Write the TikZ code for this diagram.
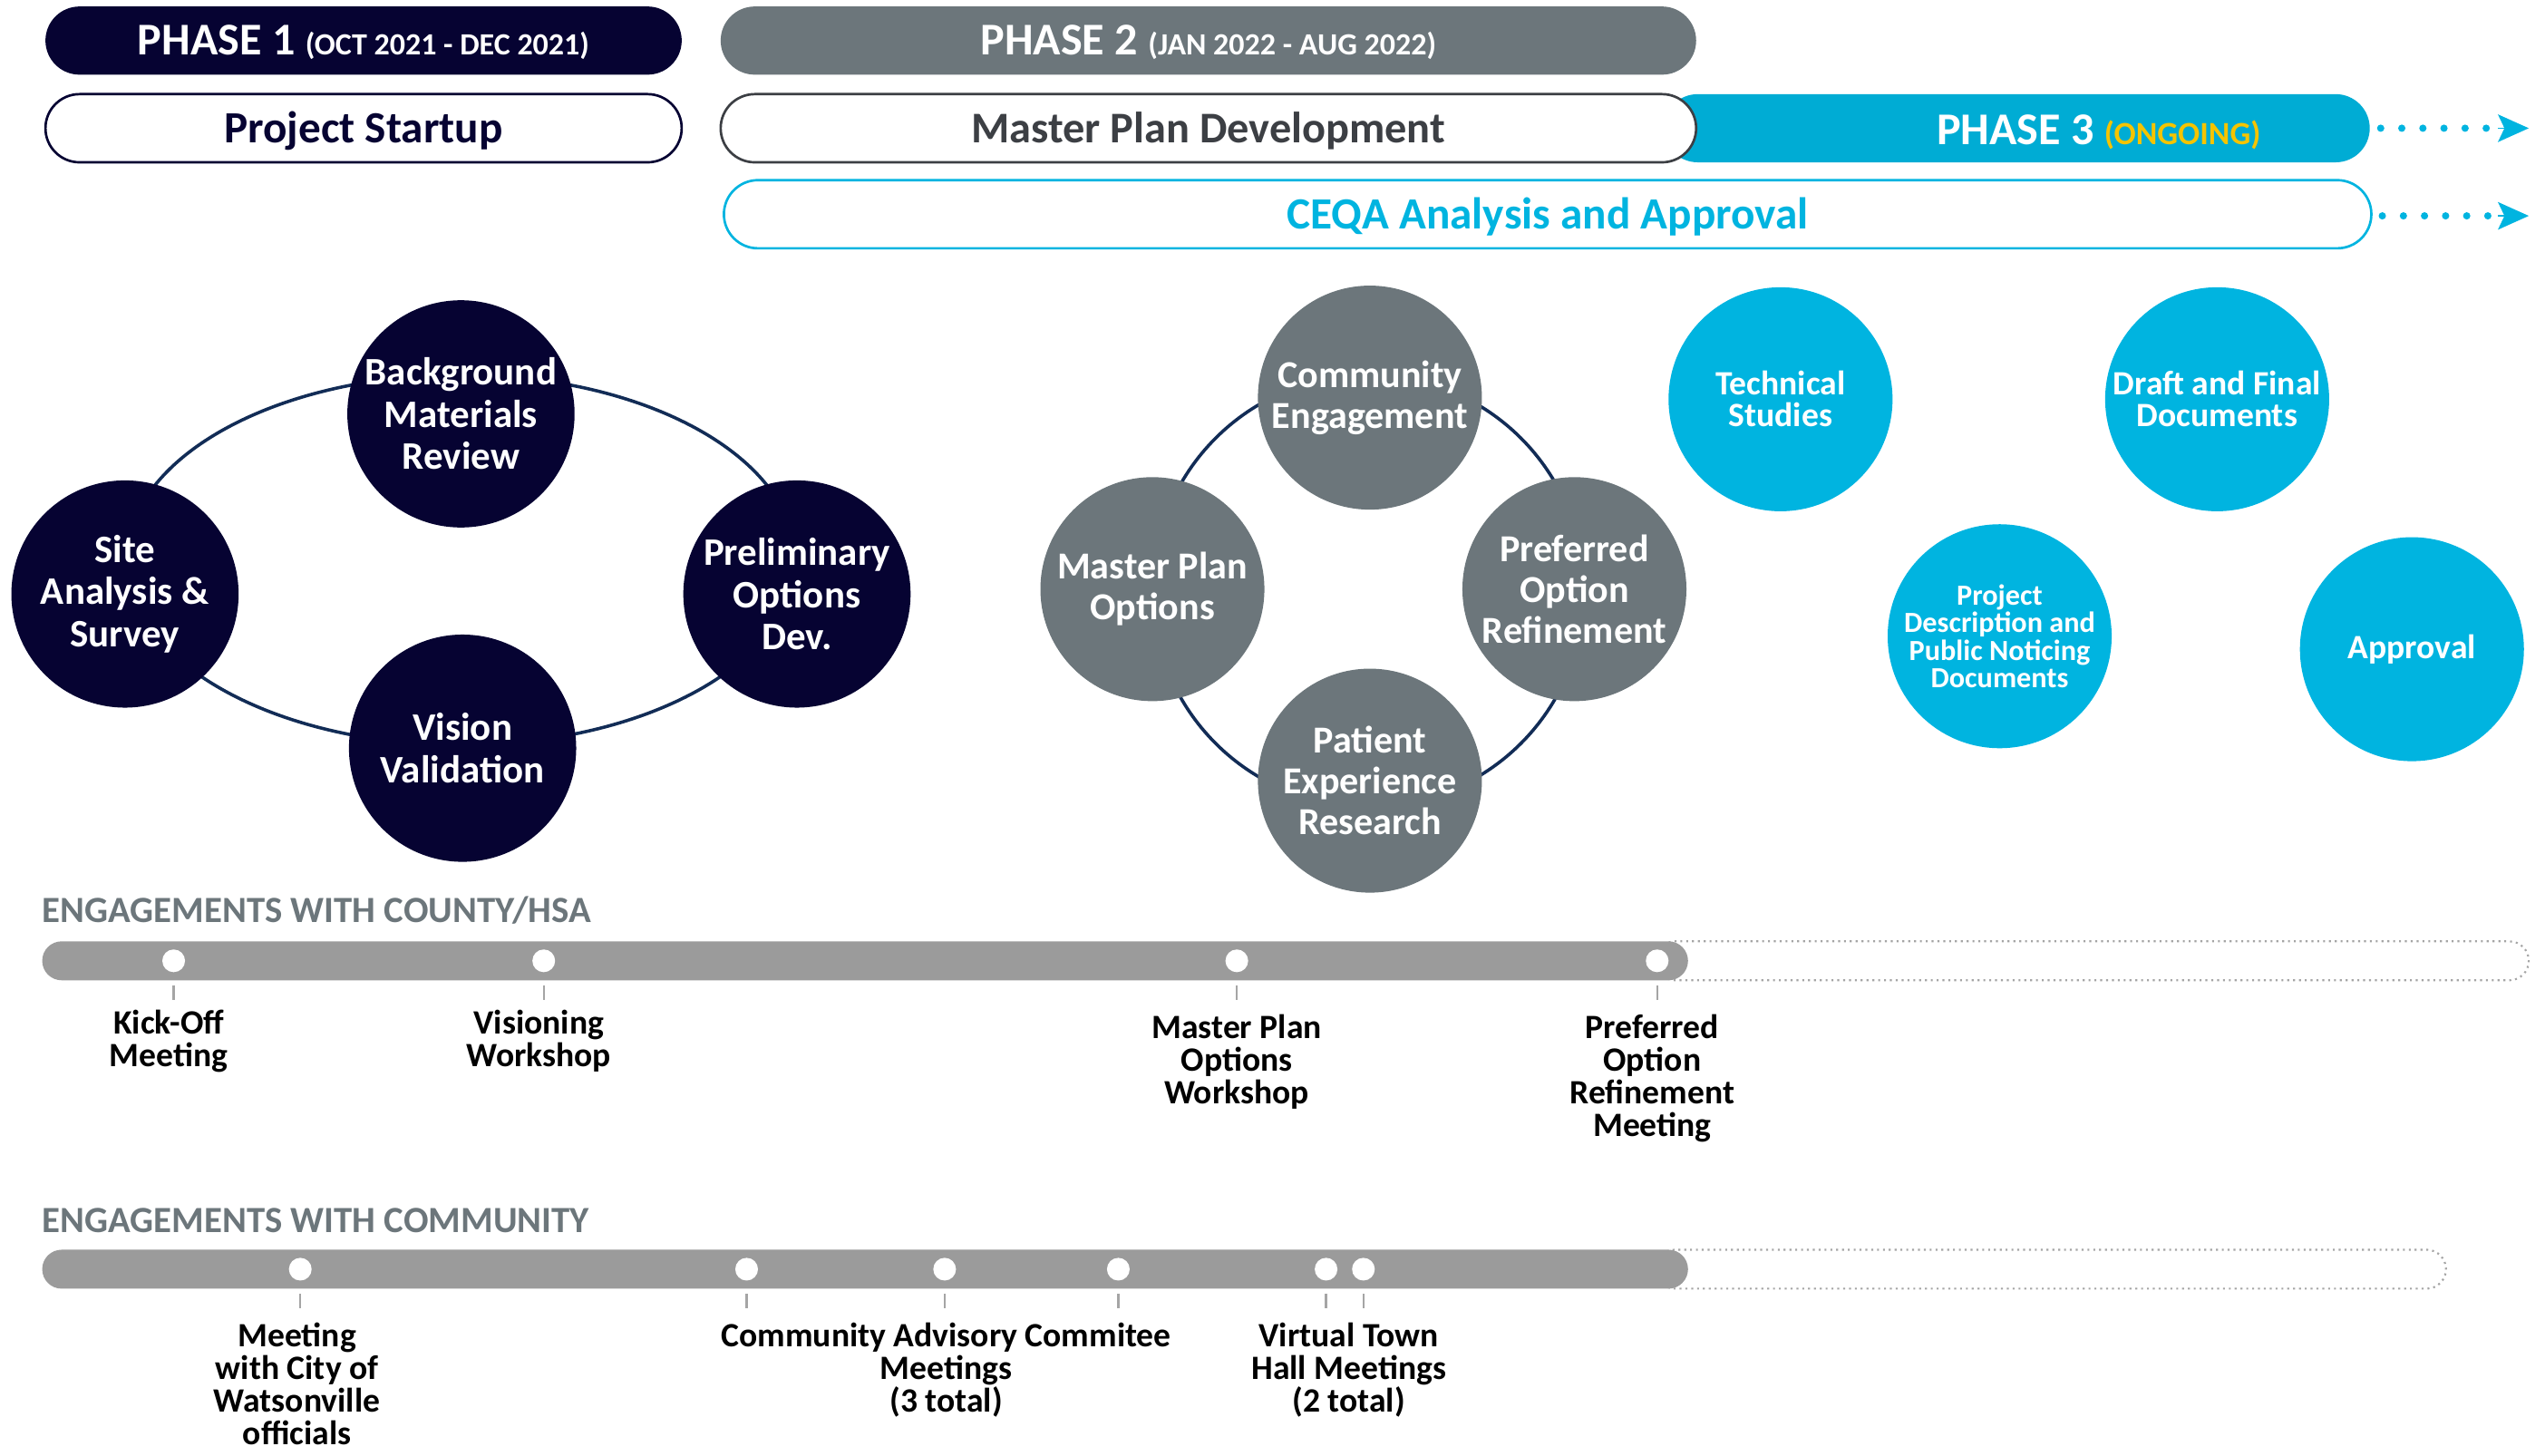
\documentclass[tikz,border=0pt]{standalone}
\usepackage{fontspec}
\setmainfont{Carlito}
\usetikzlibrary{arrows.meta}
\definecolor{navy}{RGB}{6,3,50}
\definecolor{slate}{RGB}{108,118,123}
\definecolor{cyanbar}{RGB}{0,172,212}
\definecolor{cyanc}{RGB}{0,180,224}
\definecolor{ongoing}{RGB}{245,196,0}
\definecolor{tlgray}{RGB}{155,155,155}
\definecolor{ringc}{RGB}{18,44,86}
\definecolor{mpdline}{RGB}{60,63,68}
\definecolor{ticc}{RGB}{165,165,165}
\newcommand\fs[2]{\fontsize{#1pt}{#2pt}\selectfont\bfseries}
\begin{document}
\begin{tikzpicture}[x=1pt,y=-1pt,
  bar/.style={rounded corners=21pt, minimum height=42pt, inner sep=0pt, line width=1.5pt,
              text height=17.8pt, text depth=0pt},
  bigc/.style={circle, minimum size=140pt, inner sep=0pt, align=center, text=white, font=\fs{24}{26}},
  midc/.style={circle, minimum size=138pt, inner sep=0pt, align=center, text=white, fill=slate, font=\fs{23.5}{25}},
  cyc/.style={circle, minimum size=138pt, inner sep=0pt, align=center, text=white, fill=cyanc, font=\fs{21}{19.5}},
  ring/.style={draw=ringc, line width=2pt},
  dotsline/.style={draw=cyanc, line width=4.5pt, line cap=round, dash pattern=on 0pt off 13pt},
  tipline/.style={draw=cyanc, line width=1pt, -{Stealth[length=19pt,width=17pt,inset=4pt]}},
  tlbar/.style={fill=tlgray, rounded corners=12pt, minimum height=24pt, inner sep=0pt},
  tlext/.style={draw=ticc, line width=1.2pt, dash pattern=on 1.2pt off 2.4pt, rounded corners=12pt},
  tdot/.style={circle, fill=white, minimum size=14pt, inner sep=0pt},
  tick/.style={draw=ticc, line width=1.3pt},
  lbl/.style={align=center, anchor=north, inner sep=0pt, text=black, font=\fs{21}{20}},
  sect/.style={anchor=west, inner sep=0pt, text=slate, font=\fs{22.8}{22}}
]
\useasboundingbox (0,0) rectangle (1568,897);

% ---------- top bars ----------
\node[bar, fill=navy, minimum width=392pt, text=white, font=\fs{28}{28}] (ph1) at (224,25)
  {PHASE 1 {\fs{19}{19}(OCT 2021 - DEC 2021)}};
\node[bar, fill=slate, minimum width=601pt, text=white, font=\fs{28}{28}] (ph2) at (744.5,25)
  {PHASE 2 {\fs{19}{19}(JAN 2022 - AUG 2022)}};
\node[bar, draw=navy, fill=white, minimum width=392pt, text=navy, font=\fs{27.5}{27}] (start) at (224,79)
  {Project Startup};
\node[bar, fill=cyanbar, minimum width=435pt] (ph3) at (1242.5,79) {};
\node[bar, draw=mpdline, fill=white, minimum width=601pt, text=mpdline, font=\fs{27}{27}] (mpd) at (744.5,79)
  {Master Plan Development};
\node[inner sep=0pt, text=white, font=\fs{28}{28}, text height=17.8pt, text depth=0pt] (ph3t) at (1293,80)
  {PHASE 3 {\fs{20}{20}\color{ongoing}(ONGOING)}};
\node[bar, draw=cyanc, fill=white, minimum width=1015pt, text=cyanc, font=\fs{27.5}{27}] (ceqa) at (953.5,132)
  {CEQA Analysis and Approval};

\coordinate (a1) at (1558,79);
\coordinate (a2) at (1558,133);
\draw[dotsline] ([xshift=6pt]ph3.east) -- ([xshift=-21pt]a1);
\draw[tipline] ([xshift=-19pt]a1) -- (a1);
\draw[dotsline] ([xshift=6pt,yshift=-1pt]ceqa.east) -- ([xshift=-21pt]a2);
\draw[tipline] ([xshift=-19pt]a2) -- (a2);

% ---------- phase 1 cycle ----------
\draw[ring] (284,345) ellipse [x radius=206, y radius=114];
\node[bigc, fill=navy] (bg) at (284,255) {Background\\Materials\\Review};
\node[bigc, fill=navy] (site) at (77,366) {Site\\Analysis \&\\Survey};
\node[bigc, fill=navy] (prel) at (491,366) {Preliminary\\Options\\Dev.};
\node[bigc, fill=navy] (vis) at (285,461) {Vision\\Validation};

% ---------- phase 2 cycle ----------
\draw[ring] (843,364) circle [radius=133];
\node[midc] (comm) at (844,245) {Community\\Engagement};
\node[midc] (mpo) at (710,363) {Master Plan\\Options};
\node[midc] (pref) at (970,363) {Preferred\\Option\\Refinement};
\node[midc] (pat) at (844,481) {Patient\\Experience\\Research};

% ---------- phase 3 ----------
\node[cyc] (tech) at (1097,246) {Technical\\Studies};
\node[cyc] (draft) at (1366,246) {Draft and Final\\Documents};
\node[cyc, font=\fs{18}{17}] (proj) at (1232,392) {Project\\Description and\\Public Noticing\\Documents};
\node[cyc] (appr) at (1486,400) {Approval};

% ---------- timeline county ----------
\node[sect] (s1) at (26,561) {ENGAGEMENTS WITH COUNTY/HSA};
\draw[tlext] (1020,580) rectangle (1558,604);
\node[tlbar, minimum width=1014pt] (tl1) at (533,592) {};
\foreach \n/\x in {k1/107,k2/335,k3/762,k4/1021}{
  \node[tdot] (\n) at (\x,592) {};
  \draw[tick] ([yshift=-15pt]\n.center) -- ([yshift=-24pt]\n.center);
}
\node[lbl] (lk1) at (104,622) {Kick-Off\\Meeting};
\node[lbl] (lk2) at (332,622) {Visioning\\Workshop};
\node[lbl] (lk3) at (762,625) {Master Plan\\Options\\Workshop};
\node[lbl] (lk4) at (1018,625) {Preferred\\Option\\Refinement\\Meeting};

% ---------- timeline community ----------
\node[sect] (s2) at (26,752) {ENGAGEMENTS WITH COMMUNITY};
\draw[tlext] (1020,770) rectangle (1507,794);
\node[tlbar, minimum width=1014pt] (tl2) at (533,782) {};
\foreach \n/\x in {c1/185,c2/460,c3/582,c4/689,c5/817,c6/840}{
  \node[tdot] (\n) at (\x,782) {};
  \draw[tick] ([yshift=-15pt]\n.center) -- ([yshift=-24pt]\n.center);
}
\node[lbl] (lc1) at (183,815) {Meeting\\with City of\\Watsonville\\officials};
\node[lbl] (lc2) at (583,815) {Community Advisory Commitee\\Meetings\\(3 total)};
\node[lbl] (lc3) at (831,815) {Virtual Town\\Hall Meetings\\(2 total)};
\end{tikzpicture}
\end{document}
